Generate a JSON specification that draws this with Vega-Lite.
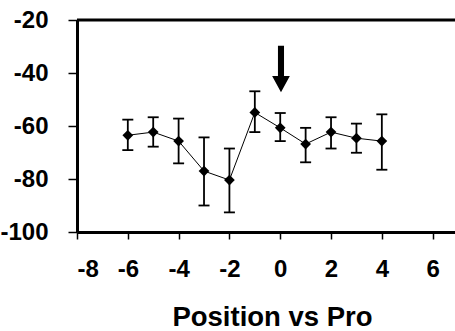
{
  "$schema": "https://vega.github.io/schema/vega-lite/v6.json",
  "width": 378,
  "height": 212,
  "autosize": {"type": "none"},
  "padding": {"left": 77, "top": 20, "right": 0, "bottom": 99},
  "background": "white",
  "config": {
    "view": {"stroke": null},
    "axis": {
      "grid": false,
      "domainColor": "black",
      "domainWidth": 3,
      "tickColor": "black",
      "tickWidth": 1.5,
      "labelColor": "black",
      "labelFont": "Liberation Sans",
      "labelFontWeight": "bold",
      "labelFontSize": 24,
      "labelExpr": "'' + datum.value",
      "titleColor": "black",
      "titleFont": "Liberation Sans",
      "titleFontWeight": "bold"
    }
  },
  "datasets": {
    "pts": [
      {"pos": -6, "mean": -63.5, "lo": -69.1, "hi": -57.6},
      {"pos": -5, "mean": -62.3, "lo": -67.8, "hi": -56.7},
      {"pos": -4, "mean": -65.7, "lo": -74.1, "hi": -57.2},
      {"pos": -3, "mean": -77.0, "lo": -90.0, "hi": -64.3},
      {"pos": -2, "mean": -80.4, "lo": -92.6, "hi": -68.5},
      {"pos": -1, "mean": -54.9, "lo": -62.3, "hi": -46.9},
      {"pos": 0, "mean": -60.7, "lo": -65.7, "hi": -55.1},
      {"pos": 1, "mean": -66.8, "lo": -73.7, "hi": -60.7},
      {"pos": 2, "mean": -62.3, "lo": -68.5, "hi": -56.7},
      {"pos": 3, "mean": -64.6, "lo": -70.1, "hi": -59.1},
      {"pos": 4, "mean": -65.7, "lo": -76.5, "hi": -55.6}
    ],
    "arrow": [{"pos": 0.03, "mid": -38.5}],
    "frame": [{"from": -8, "to": 6.88, "ylev": -20}]
  },
  "layer": [
    {
      "data": {"name": "pts"},
      "mark": {"type": "rule", "color": "black", "strokeWidth": 1.8},
      "encoding": {
        "x": {
          "field": "pos",
          "type": "quantitative",
          "scale": {"domain": [-8, 6.88], "nice": false, "zero": false},
          "axis": {
            "values": [-8, -6, -4, -2, 0, 2, 4, 6],
            "tickSize": 7,
            "labelPadding": 18,
            "title": "Position vs Pro",
            "titleFontSize": 27.5,
            "titleX": 195,
            "titleY": 93.5,
            "titleAlign": "center",
            "titleBaseline": "alphabetic"
          }
        },
        "y": {
          "field": "lo",
          "type": "quantitative",
          "scale": {"domain": [-100, -20], "nice": false, "zero": false},
          "axis": {
            "values": [-100, -80, -60, -40, -20],
            "tickSize": 9,
            "labelPadding": 20,
            "title": null
          }
        },
        "y2": {"field": "hi"}
      }
    },
    {
      "data": {"name": "pts"},
      "mark": {"type": "tick", "orient": "horizontal", "color": "black", "size": 11, "thickness": 1.8, "opacity": 1},
      "encoding": {
        "x": {"field": "pos", "type": "quantitative"},
        "y": {"field": "lo", "type": "quantitative"}
      }
    },
    {
      "data": {"name": "pts"},
      "mark": {"type": "tick", "orient": "horizontal", "color": "black", "size": 11, "thickness": 1.8, "opacity": 1},
      "encoding": {
        "x": {"field": "pos", "type": "quantitative"},
        "y": {"field": "hi", "type": "quantitative"}
      }
    },
    {
      "data": {"name": "pts"},
      "mark": {"type": "line", "color": "black", "strokeWidth": 1},
      "encoding": {
        "x": {"field": "pos", "type": "quantitative"},
        "y": {"field": "mean", "type": "quantitative"}
      }
    },
    {
      "data": {"name": "pts"},
      "mark": {"type": "point", "shape": "diamond", "filled": true, "color": "black", "size": 115, "opacity": 1},
      "encoding": {
        "x": {"field": "pos", "type": "quantitative"},
        "y": {"field": "mean", "type": "quantitative"}
      }
    },
    {
      "data": {"name": "arrow"},
      "mark": {
        "type": "point",
        "shape": "M-0.13,-1L0.13,-1L0.13,0.3L0.38,0.3L0,1L-0.38,0.3L-0.13,0.3Z",
        "filled": true,
        "color": "black",
        "size": 2172,
        "opacity": 1
      },
      "encoding": {
        "x": {"field": "pos", "type": "quantitative"},
        "y": {"field": "mid", "type": "quantitative"}
      }
    },
    {
      "data": {"name": "frame"},
      "mark": {"type": "rule", "color": "black", "strokeWidth": 3},
      "encoding": {
        "x": {"field": "from", "type": "quantitative"},
        "x2": {"field": "to"},
        "y": {"field": "ylev", "type": "quantitative"}
      }
    }
  ]
}
